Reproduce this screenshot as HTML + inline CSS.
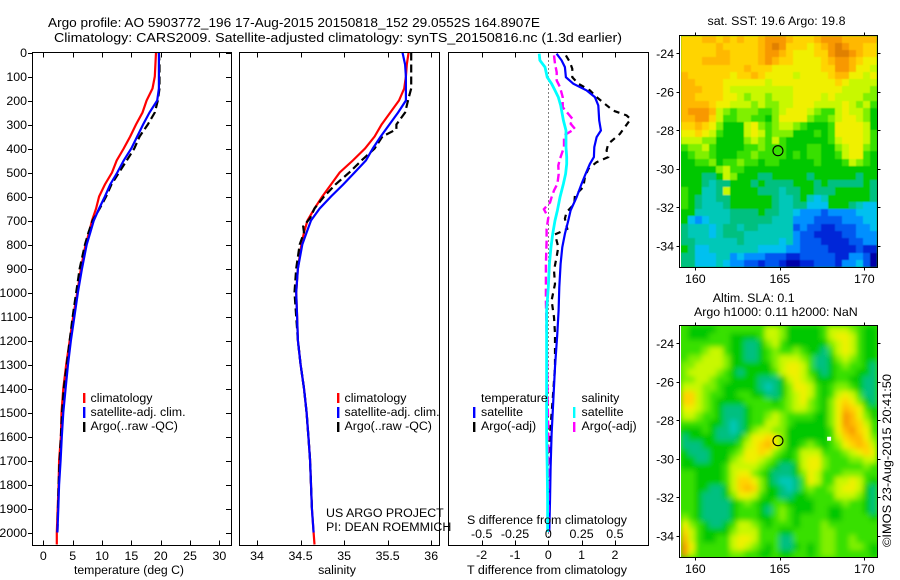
<!DOCTYPE html>
<html lang="en">
<head>
<meta charset="utf-8">
<title>Argo profile 5903772_196</title>
<style>
html,body{margin:0;padding:0;background:#fff;}
svg{display:block;}
text{font-family:"Liberation Sans",Arial,sans-serif;fill:#000;font-size:12.4px;}
.t{font-size:13px;}
</style>
</head>
<body>
<svg id="chart" xmlns="http://www.w3.org/2000/svg" width="900" height="580" viewBox="0 0 900 580">
<defs>
<filter id="soft-sst" x="-5%" y="-5%" width="110%" height="110%"><feGaussianBlur stdDeviation="0.6"/></filter>
<filter id="soft-sla" x="-5%" y="-5%" width="110%" height="110%"><feGaussianBlur stdDeviation="2.6"/></filter>
<clipPath id="clip-sst"><rect x="681" y="36" width="196" height="231"/></clipPath>
<clipPath id="clip-sla"><rect x="681" y="326" width="196" height="231"/></clipPath>
</defs>
<rect width="900" height="580" fill="#fff"/>
<g clip-path="url(#clip-sst)">
<rect x="681" y="36" width="196" height="231" fill="#00c800"/>
<g id="layer-sst" filter="url(#soft-sst)"></g>
</g>
<g clip-path="url(#clip-sla)">
<rect x="681" y="326" width="196" height="231" fill="#38e000"/>
<g id="layer-sla" filter="url(#soft-sla)"></g>
</g>
<g id="layer-maps"></g>
<g id="layer-marks"></g>
<g fill="none" stroke="#000" stroke-width="1" shape-rendering="crispEdges">
<rect x="32.5" y="52.5" width="199" height="493"/>
<rect x="239.5" y="52.5" width="200" height="493"/>
<rect x="448.5" y="52.5" width="200" height="493"/>
<rect x="679.5" y="35.5" width="198" height="232"/>
<rect x="679.5" y="325.5" width="198" height="232"/>
</g>
<g id="layer-ticks"></g>
<text class="t" x="48" y="27" textLength="492" lengthAdjust="spacingAndGlyphs">Argo profile: AO 5903772_196 17-Aug-2015 20150818_152 29.0552S 164.8907E</text>
<text class="t" x="54" y="42" textLength="568" lengthAdjust="spacingAndGlyphs">Climatology: CARS2009. Satellite-adjusted climatology: synTS_20150816.nc (1.3d earlier)</text>
<text x="129" y="574" text-anchor="middle" textLength="110" lengthAdjust="spacingAndGlyphs">temperature (deg C)</text>
<text x="337" y="574" text-anchor="middle">salinity</text>
<text x="547" y="574" text-anchor="middle" textLength="160" lengthAdjust="spacingAndGlyphs">T difference from climatology</text>
<text x="547" y="524" text-anchor="middle" textLength="160" lengthAdjust="spacingAndGlyphs">S difference from climatology</text>
<g>
<rect x="83" y="393" width="2.4" height="10" fill="#f00"/>
<rect x="83" y="407" width="2.4" height="11" fill="#00f"/>
<rect x="83" y="422" width="2.4" height="10" fill="#000"/>
<text x="90.5" y="402">climatology</text>
<text x="90.5" y="416">satellite-adj. clim.</text>
<text x="90.5" y="430">Argo(..raw -QC)</text>
</g>
<g>
<rect x="337" y="393" width="2.4" height="10" fill="#f00"/>
<rect x="337" y="407" width="2.4" height="11" fill="#00f"/>
<rect x="337" y="422" width="2.4" height="10" fill="#000"/>
<text x="344.5" y="402">climatology</text>
<text x="344.5" y="416">satellite-adj. clim.</text>
<text x="344.5" y="430">Argo(..raw -QC)</text>
</g>
<g>
<text x="481" y="402">temperature</text>
<rect x="473" y="407" width="2.4" height="11" fill="#00f"/>
<rect x="473" y="422" width="2.4" height="10" fill="#000"/>
<text x="481" y="416">satellite</text>
<text x="481" y="430">Argo(-adj)</text>
<text x="581.5" y="402">salinity</text>
<rect x="573" y="407" width="2.4" height="11" fill="#0ff"/>
<rect x="573" y="422" width="2.4" height="10" fill="#f0f"/>
<text x="581.5" y="416">satellite</text>
<text x="581.5" y="430">Argo(-adj)</text>
</g>
<text x="326" y="517">US ARGO PROJECT</text>
<text x="326" y="531">PI: DEAN ROEMMICH</text>
<text x="707.5" y="25" textLength="138" lengthAdjust="spacing">sat. SST: 19.6  Argo: 19.8</text>
<text x="712.7" y="302">Altim. SLA: 0.1</text>
<text x="694" y="316">Argo h1000: 0.11 h2000: NaN</text>
<text transform="translate(891,547) rotate(-90)" textLength="173" lengthAdjust="spacingAndGlyphs">©IMOS 23-Aug-2015 20:41:50</text>
</svg>
<script>
// ---- chart data ----
const tempTicks = [0, 5, 10, 15, 20, 25, 30];
const salTicks = ['34', '34.5', '35', '35.5', '36'];
const depthTicks = [0,100,200,300,400,500,600,700,800,900,1000,1100,1200,1300,1400,1500,1600,1700,1800,1900,2000];
const tDiffTicks = [-2, -1, 0, 1, 2];
const sDiffTicks = ['-0.5', '-0.25', '0', '0.25', '0.5'];
const lonTicks = [160, 165, 170];
const latTicks = [-24, -26, -28, -30, -32, -34];

const profileDepths = [0,50,100,150,200,250,300,350,400,450,500,550,600,650,700,750,800,900,1000,1100,1200,1300,1400,1500,1600,1700,1800,1900,2000,2050];
const tempClim = [19.2,19.1,19.0,18.6,17.6,16.9,15.8,14.8,13.7,12.5,11.7,10.5,9.5,9.0,8.3,7.8,7.2,6.4,5.8,5.1,4.5,3.9,3.4,3.1,3.0,2.7,2.6,2.45,2.3,2.3];
const tempSat = [19.7,19.7,19.7,19.7,19.4,18.1,17.0,16.0,15.0,13.7,12.6,11.4,10.5,9.5,8.6,8.0,7.4,6.6,5.9,5.3,4.7,4.2,3.8,3.4,3.15,2.95,2.7,2.55,2.4];
const tempArgo = [19.7,19.8,19.8,19.8,19.5,19.0,17.8,16.4,15.5,14.2,12.9,11.6,10.7,9.6,8.4,7.7,7.1,6.2,5.6,5.0,4.5,4.0,3.5,3.2,3.0,2.8,2.6,2.5,2.4];
const salClim = [35.74,35.72,35.71,35.69,35.63,35.53,35.43,35.35,35.24,35.10,34.95,34.85,34.75,34.66,34.58,34.54,34.51,34.47,34.45,34.46,34.47,34.50,34.54,34.57,34.59,34.61,34.62,34.63,34.65,34.66];
const salSat = [35.67,35.70,35.71,35.71,35.71,35.62,35.52,35.42,35.33,35.25,35.12,34.99,34.85,34.72,34.62,34.57,34.52,34.47,34.45,34.46,34.47,34.50,34.54,34.57,34.59,34.61,34.62,34.63,34.65];
const salArgoDepths = [0,150,190,250,300,320,350,400,450,500,550,600,650,690,725,750,800,900,1000,1100,1200,1300,1400,1500,1600,1700,1800,1900];
const salArgo = [35.77,35.77,35.74,35.70,35.60,35.60,35.44,35.35,35.20,35.06,34.90,34.77,34.66,34.61,34.53,34.54,34.49,34.45,34.43,34.45,34.47,34.50,34.54,34.57,34.59,34.61,34.62,34.63];

const diffDepths = [5,33,61,103,130,158,186,221,283,325,353,394,436,464,506,547,603,658,700,756,811,881,978,1075,1172,1311,1450,1589,1728,1867,1998];
const tDiffSat = [0.25,0.40,0.50,0.53,0.75,1.15,1.40,1.50,1.53,1.58,1.45,1.38,1.37,1.25,1.12,1.00,0.85,0.67,0.60,0.50,0.42,0.37,0.33,0.31,0.27,0.20,0.15,0.10,0.07,0.05,0.03];
const sDiffSat = [-0.068,-0.063,-0.025,-0.008,0.025,0.050,0.075,0.093,0.113,0.133,0.133,0.133,0.138,0.138,0.130,0.113,0.088,0.068,0.050,0.033,0.020,0.008,0,-0.013,-0.013,-0.013,-0.013,-0.013,-0.008,-0.005,-0.005];
const sDiffArgoDepths = [12,47,82,117,144,186,228,256,276,297,318,346,394,443,471,506,547,575,603,625,653,688,735,786,882,978,1033,1172,1311,1450,1589,1728,1867,1998];
const sDiffArgo = [0.043,0.050,0.063,0.063,0.088,0.108,0.108,0.150,0.180,0.168,0.200,0.118,0.118,0.088,0.075,0.078,0.068,0.043,0.025,0.013,-0.033,0,-0.013,-0.013,-0.018,-0.018,-0.018,-0.013,-0.008,-0.005,0,0,0,0];
const tDiffArgoDepths = [12,40,68,103,130,158,186,214,242,262,278,339,381,408,436,457,485,519,561,596,631,665,692,735,758,811,852,908,964,1033,1103,1172,1311,1450,1589,1867,1998];
const tDiffArgo = [0.53,0.65,0.72,0.72,0.90,1.25,1.45,1.70,1.95,2.35,2.47,2.15,1.80,1.75,1.80,1.45,1.20,1.10,1.05,0.80,0.78,0.55,0.50,0.57,0.20,0.30,0.25,0.17,0.20,0.10,0.17,0.20,0.20,0.13,0.05,0.03,0.01];

const colorLevels = ['#0000a8','#0028d8','#0058f0','#0090ff','#00c0f0','#00c8b8','#00c080','#00c800','#38e000','#80f000','#c8f800','#f0f000','#ffd400','#ffb800','#f89800','#e08000'];

const sstLevels = [
[12,12,12,13,13,12,13,12,13,12,12,13,14,14,14,13,12,12,12,13,14,14,14,13,13,13,13,13],
[12,12,12,12,12,13,12,12,12,12,12,13,14,15,14,12,12,12,11,12,13,14,15,14,13,13,12,12],
[12,12,12,12,12,13,13,12,12,12,12,13,14,14,13,12,11,11,11,12,12,14,15,15,14,13,12,12],
[12,12,12,13,13,13,13,12,12,12,12,13,14,13,12,12,11,11,11,11,12,13,14,14,13,12,11,11],
[12,12,12,12,12,12,12,12,12,13,12,12,12,11,11,11,11,11,11,11,12,12,14,14,13,11,11,10],
[13,12,12,12,12,12,12,11,12,12,13,12,11,11,11,11,10,11,11,11,11,12,13,13,11,11,10,11],
[13,13,12,12,12,12,11,11,11,11,11,11,10,11,11,11,11,11,11,11,11,11,12,11,10,10,10,10],
[13,13,13,12,12,12,11,10,10,10,10,10,10,10,10,10,11,11,11,11,11,11,11,10,10,10,10,9],
[13,13,12,12,12,12,11,11,10,9,10,10,9,10,10,10,11,11,11,11,10,11,10,10,10,10,9,9],
[13,13,13,13,12,11,11,10,10,10,9,10,9,9,10,10,11,11,11,10,10,10,10,11,10,9,10,8],
[13,14,14,14,13,10,9,8,9,9,9,8,8,9,10,11,11,11,10,9,8,8,10,11,10,10,9,7],
[13,13,14,14,12,10,8,8,9,9,8,8,7,9,11,11,11,11,9,8,8,9,10,11,11,10,9,7],
[12,12,13,12,11,9,7,7,7,10,11,9,8,9,10,10,9,8,7,7,7,8,11,11,11,11,10,7],
[11,11,12,11,10,8,7,7,7,10,11,10,8,9,9,9,7,7,7,8,7,8,11,11,11,11,10,8],
[10,10,10,9,9,7,7,7,7,9,10,9,8,10,8,7,7,7,7,7,7,8,10,11,11,11,10,8],
[8,9,9,10,8,7,7,7,7,8,8,9,8,8,8,7,7,7,8,8,7,7,9,10,11,11,9,8],
[7,8,9,9,8,7,7,7,8,8,9,8,8,8,8,7,8,7,8,8,7,7,8,10,11,11,8,7],
[7,7,8,8,9,7,8,8,9,8,8,7,8,8,7,7,7,7,7,8,7,7,7,8,10,9,8,7],
[7,7,7,7,7,9,10,8,8,7,7,7,7,7,7,7,7,7,7,7,7,7,7,7,7,7,7,7],
[7,7,7,6,6,7,10,9,7,7,7,6,6,7,7,7,7,7,6,7,7,7,7,7,7,6,7,7],
[7,7,7,6,5,6,6,7,7,7,6,7,6,6,6,6,7,7,7,6,7,6,6,6,6,6,7,6],
[8,7,7,5,5,6,10,7,7,7,7,6,6,6,5,6,6,7,7,6,6,6,7,7,7,7,7,6],
[8,7,6,5,5,6,6,7,7,7,7,7,7,6,5,5,6,7,5,4,5,7,7,7,7,7,7,6],
[8,7,6,5,5,5,6,7,7,7,7,7,7,6,5,5,6,6,4,4,4,7,7,7,6,5,4,4],
[7,7,5,5,5,5,5,6,6,6,6,7,6,6,5,5,4,3,3,3,2,3,3,3,3,4,4,4],
[7,4,3,4,5,5,5,6,6,6,6,6,6,5,5,5,3,3,3,2,2,2,2,3,3,3,4,4],
[6,5,5,5,4,5,6,6,5,6,6,5,5,5,5,5,2,3,2,2,1,1,2,2,2,3,3,4],
[6,5,5,5,4,5,6,6,6,5,5,5,5,5,5,5,3,2,2,1,1,1,1,2,2,3,3,3],
[6,6,5,5,5,5,5,5,6,5,5,5,5,5,4,5,3,2,2,2,1,1,1,1,2,2,3,3],
[7,6,4,4,5,5,5,5,5,5,5,4,4,4,4,3,3,2,2,2,2,1,1,1,1,2,1,1],
[6,6,4,4,4,5,5,3,4,3,3,3,2,2,2,1,1,2,2,2,2,2,1,1,3,3,2,0],
[6,6,4,4,4,5,4,3,3,2,2,1,2,2,1,0,0,1,1,2,2,2,1,3,3,4,2,0]
];

const slaLevels = [
[8,7,7,7,7,8,8,8,8,8,8,8,10,10,9,7,7,7,7,7,8,10,10,10,9,8,7,7],
[8,7,7,7,8,8,8,7,7,7,7,8,10,10,9,7,7,7,7,7,8,10,11,11,10,8,7,7],
[8,8,8,8,8,8,8,7,7,6,6,7,9,10,8,7,7,7,7,7,7,9,10,11,10,8,7,7],
[8,8,8,9,10,10,8,7,7,6,6,7,8,9,8,8,9,8,7,7,6,8,10,11,10,8,7,7],
[8,9,9,10,10,10,9,7,7,6,6,7,8,9,10,10,10,9,8,6,6,7,9,10,9,8,7,7],
[9,9,10,10,10,10,9,7,7,7,7,7,7,9,10,11,11,10,8,6,6,7,8,9,8,8,7,6],
[9,10,10,10,10,9,8,7,6,7,7,7,7,8,10,11,11,10,8,7,6,7,8,8,8,7,7,6],
[9,9,10,10,9,8,8,7,7,7,7,6,6,6,7,10,11,10,9,7,7,7,8,8,7,7,6,6],
[10,10,10,9,9,8,7,7,7,7,7,6,5,6,7,9,11,11,10,8,7,8,9,9,8,7,6,6],
[12,12,10,9,8,8,7,7,8,8,7,7,6,6,7,9,10,11,10,8,7,8,10,11,10,8,6,6],
[12,12,10,9,8,7,7,7,7,8,8,8,8,7,8,9,10,11,9,8,7,9,11,12,11,9,7,6],
[11,11,10,9,8,7,6,6,6,7,8,8,8,8,8,9,10,10,9,8,7,9,11,13,12,11,8,7],
[10,10,9,8,8,7,6,6,6,7,8,8,9,10,9,8,8,8,8,7,7,9,11,14,13,11,9,7],
[8,8,8,8,7,7,6,5,6,7,8,8,10,10,9,8,7,7,7,7,7,9,11,14,13,12,10,8],
[7,7,7,8,7,6,6,5,6,7,9,10,10,9,9,7,7,7,7,7,7,8,11,13,14,12,11,8],
[6,7,7,7,7,6,6,6,7,9,11,11,12,11,9,7,7,7,7,7,7,8,10,12,13,13,11,9],
[6,6,6,7,7,7,7,7,8,10,11,12,13,11,9,7,7,8,9,8,7,8,9,11,12,13,12,10],
[7,6,6,6,7,7,7,8,9,11,11,12,11,9,8,7,8,10,10,10,8,8,8,9,10,11,12,11],
[7,7,6,6,7,7,7,9,10,11,11,10,9,8,7,7,8,10,11,11,9,8,8,8,9,9,10,10],
[7,7,7,7,7,7,8,10,10,10,10,9,8,7,6,6,7,10,11,11,9,8,8,8,8,8,9,8],
[8,8,7,7,7,7,8,10,11,11,9,8,7,6,6,6,7,9,11,10,8,8,8,9,9,9,8,8],
[8,8,7,7,7,7,8,10,12,12,11,9,7,6,5,5,6,8,11,10,8,8,10,10,11,10,8,7],
[8,8,7,7,6,6,7,10,12,13,12,9,7,7,6,5,6,8,9,8,8,9,10,11,11,10,7,6],
[8,8,7,6,6,6,7,9,11,11,10,8,7,7,6,6,7,7,8,8,8,8,10,10,10,9,7,6],
[8,8,7,6,6,6,6,7,8,9,8,7,7,8,8,7,7,7,7,8,8,8,8,9,8,8,7,6],
[8,8,7,6,6,6,6,7,8,8,8,7,6,8,9,8,7,7,7,8,8,7,7,8,8,8,7,6],
[9,8,7,6,6,6,6,7,8,8,8,7,7,8,9,8,7,8,8,8,8,7,7,8,8,8,8,7],
[11,9,8,7,6,6,7,8,10,10,9,8,7,8,8,8,7,8,8,8,9,8,8,8,8,8,8,8],
[12,10,8,7,7,7,7,9,10,10,10,8,8,8,7,7,8,8,8,8,9,9,8,8,8,8,8,8],
[13,10,8,7,7,8,8,10,11,11,10,8,8,8,6,6,8,8,8,8,9,9,8,8,9,8,8,8],
[14,11,8,8,8,8,8,10,11,10,9,8,7,8,6,6,7,8,7,8,9,9,8,8,9,9,8,7],
[14,10,8,8,8,8,8,9,9,8,8,7,7,8,7,7,8,8,7,8,9,9,8,8,8,8,8,7]
];

const floatLon = 164.8907;
const floatLat = -29.0552;
const mapLonStart = 159.15;
const mapLonEnd = 170.75;
const mapLatStart = -23.08;
const mapLatEnd = -35.09;
const depthMax = 2050;

// ---- axis functions ----
const yDepth = d => 52.5 + 0.24 * d;
const xTemp = t => 43.3 + 5.87 * t;
const xSal = s => 257 + 87.1 * (s - 34);
const xTDiff = v => 548.3 + 33.3 * v;
const xSDiff = v => 548.3 + 133.2 * v;
const xLon = lon => 695.3 + 16.9 * (lon - 160);
const ySstLat = lat => 53.3 + 19.27 * (-24 - lat);
const ySlaLat = lat => 343.3 + 19.27 * (-24 - lat);

const NS = 'http://www.w3.org/2000/svg';
const maps = document.getElementById('layer-maps');
const sstLayer = document.getElementById('layer-sst');
const slaLayer = document.getElementById('layer-sla');
const marks = document.getElementById('layer-marks');
const ticks = document.getElementById('layer-ticks');

function drawLine(depths, values, xf, color, width, dash, name, crisp) {
  const n = Math.min(depths.length, values.length);
  const pts = [];
  for (let i = 0; i < n; i++) pts.push(xf(values[i]).toFixed(1) + ',' + yDepth(depths[i]).toFixed(1));
  const el = document.createElementNS(NS, 'polyline');
  
  
  el.setAttribute('points', pts.join(' '));
  el.setAttribute('fill', 'none');
  el.setAttribute('stroke', color);
  el.setAttribute('stroke-width', width);
  if (dash) el.setAttribute('stroke-dasharray', dash);
  if (crisp) el.setAttribute('shape-rendering', 'crispEdges');
  marks.appendChild(el);
}

function drawTick(x1, y1, x2, y2) {
  const el = document.createElementNS(NS, 'line');
  
  
  el.setAttribute('x1', x1);
  el.setAttribute('y1', y1);
  el.setAttribute('x2', x2);
  el.setAttribute('y2', y2);
  el.setAttribute('stroke', '#000');
  el.setAttribute('stroke-width', 1);
  el.setAttribute('shape-rendering', 'crispEdges');
  ticks.appendChild(el);
}

function drawLabel(x, y, str, anchor) {
  const el = document.createElementNS(NS, 'text');
  
  
  el.setAttribute('x', x);
  el.setAttribute('y', y);
  el.setAttribute('text-anchor', anchor);
  el.textContent = str;
  ticks.appendChild(el);
}

function drawHeatmap(levels, yLat, name, layer) {
  const rows = levels.length;
  const cols = levels[0].length;
  const dLon = (mapLonEnd - mapLonStart) / cols;
  const dLat = (mapLatEnd - mapLatStart) / rows;
  for (let r = 0; r < rows; r++) {
    for (let c = 0; c < cols; c++) {
      const x0 = Math.round(xLon(mapLonStart + c * dLon));
      const x1 = Math.round(xLon(mapLonStart + (c + 1) * dLon));
      const y0 = Math.round(yLat(mapLatStart + r * dLat));
      const y1 = Math.round(yLat(mapLatStart + (r + 1) * dLat));
      const el = document.createElementNS(NS, 'rect');
      
      
      el.setAttribute('x', x0);
      el.setAttribute('y', y0);
      el.setAttribute('width', x1 - x0);
      el.setAttribute('height', y1 - y0);
      el.setAttribute('fill', colorLevels[levels[r][c]]);
      el.setAttribute('shape-rendering', 'crispEdges');
      layer.appendChild(el);
    }
  }
}

function drawMarker(yLat, name) {
  const el = document.createElementNS(NS, 'circle');
  
  
  el.setAttribute('cx', xLon(floatLon));
  el.setAttribute('cy', yLat(floatLat));
  el.setAttribute('r', 5);
  el.setAttribute('fill', 'none');
  el.setAttribute('stroke', '#000');
  el.setAttribute('stroke-width', 1.1);
  maps.appendChild(el);
}

// ---- maps ----
drawHeatmap(sstLevels, ySstLat, 'sst-cell', sstLayer);
drawHeatmap(slaLevels, ySlaLat, 'sla-cell', slaLayer);
drawMarker(ySstLat, 'sst-float-position');
drawMarker(ySlaLat, 'sla-float-position');

const noDataCell = document.createElementNS(NS, 'rect');


noDataCell.setAttribute('x', xLon(167.8));
noDataCell.setAttribute('y', ySlaLat(-28.85));
noDataCell.setAttribute('width', 4);
noDataCell.setAttribute('height', 4);
noDataCell.setAttribute('fill', '#fff');
maps.appendChild(noDataCell);

// ---- profile lines ----
drawLine(profileDepths, tempClim, xTemp, '#f00', 2.2, null, 'temperature-climatology-line');
drawLine(profileDepths, tempArgo, xTemp, '#000', 2.2, '8 4', 'temperature-argo-line');
drawLine(profileDepths, tempSat, xTemp, '#00f', 2.2, null, 'temperature-satellite-line');
drawLine(profileDepths, salClim, xSal, '#f00', 2.2, null, 'salinity-climatology-line');
drawLine(salArgoDepths, salArgo, xSal, '#000', 2.2, '8 4', 'salinity-argo-line');
drawLine(profileDepths, salSat, xSal, '#00f', 2.2, null, 'salinity-satellite-line');

drawLine([0, depthMax], [0, 0], xTDiff, '#000', 1, '1 3', 'zero-difference-line', true);
drawLine(tDiffArgoDepths, tDiffArgo, xTDiff, '#000', 2.2, '6 5', 't-difference-argo-line');
drawLine(diffDepths, tDiffSat, xTDiff, '#00f', 2.2, null, 't-difference-satellite-line');
drawLine(sDiffArgoDepths, sDiffArgo, xSDiff, '#f0f', 2.4, '8 4', 's-difference-argo-line');
drawLine(diffDepths, sDiffSat, xSDiff, '#0ff', 2.8, null, 's-difference-satellite-line');

// ---- ticks ----
const panelTop = 52.5, panelBottom = 545.5, tickLen = 5;
depthTicks.forEach(function (d) {
  const y = Math.round(yDepth(d)) + 0.5;
  drawTick(28, y, 32.5, y);
  drawTick(226, y, 231.5, y);
  drawLabel(27, yDepth(d) + 4.5, String(d), 'end');
});
function xAxisTicks(x, label, labelY) {
  const px = Math.round(x) + 0.5;
  drawTick(px, panelTop, px, panelTop + tickLen);
  drawTick(px, panelBottom - tickLen, px, panelBottom);
  if (label !== null) drawLabel(x, labelY, label, 'middle');
}
tempTicks.forEach(function (t) { xAxisTicks(xTemp(t), String(t), 560); });
salTicks.forEach(function (s) { xAxisTicks(xSal(parseFloat(s)), s, 560); });
tDiffTicks.forEach(function (t) { xAxisTicks(xTDiff(t), String(t), 559); });
sDiffTicks.forEach(function (s) { drawLabel(xSDiff(parseFloat(s)), 538, s, 'middle'); });

[[35.5, 267.5, ySstLat], [325.5, 557.5, ySlaLat]].forEach(function (m) {
  lonTicks.forEach(function (lon) {
    const x = Math.round(xLon(lon)) + 0.5;
    drawTick(x, m[0] - 3, x, m[0]);
    drawTick(x, m[1], x, m[1] + 3);
    drawLabel(xLon(lon), m[1] + 15.5, String(lon), 'middle');
  });
  latTicks.forEach(function (lat) {
    const y = Math.round(m[2](lat)) + 0.5;
    drawTick(676.5, y, 679.5, y);
    drawTick(877.5, y, 880.5, y);
    drawLabel(674, m[2](lat) + 4.5, String(lat), 'end');
  });
});
</script>
</body>
</html>
